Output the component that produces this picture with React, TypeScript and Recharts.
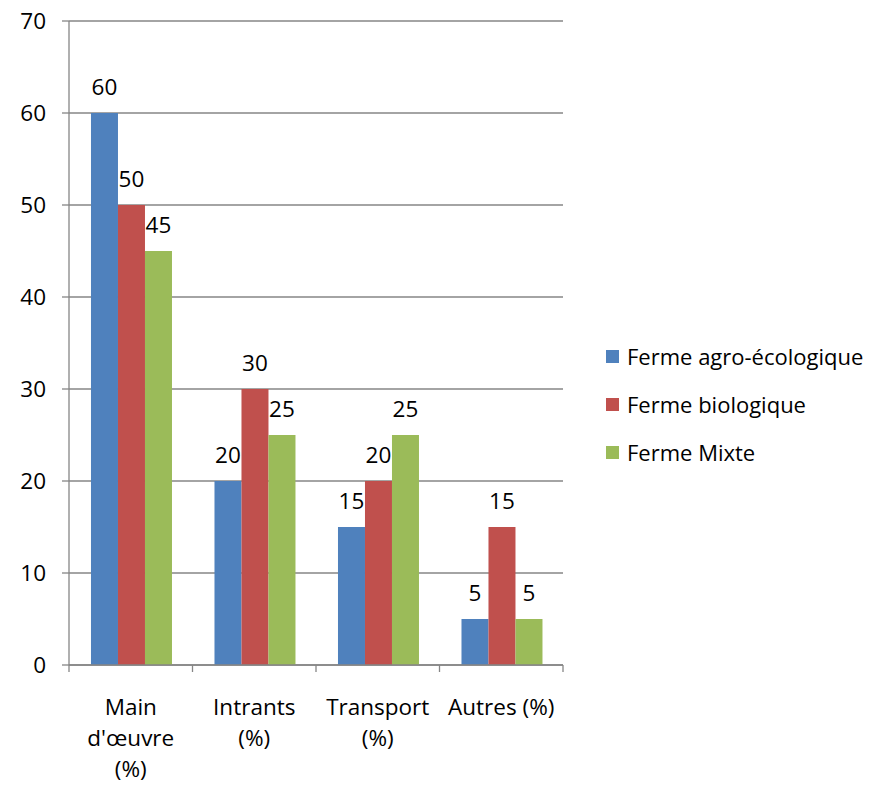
import React from "react";
import { Bar, BarChart, CartesianGrid, LabelList, XAxis, YAxis } from "recharts";

// tick labels, one entry per line
const categoryLines: string[][] = [
    ["Main", "d'œuvre", "(%)"],
    ["Intrants", "(%)"],
    ["Transport", "(%)"],
    ["Autres (%)"],
];
const categories = categoryLines.map((l) => l.join(" "));

const agroEcologique = [60, 20, 15, 5];
const biologique = [50, 30, 20, 15];
const mixte = [45, 25, 25, 5];

const yTicks = [0, 10, 20, 30, 40, 50, 60, 70];

const seriesNames = ["Ferme agro-écologique", "Ferme biologique", "Ferme Mixte"];
const colors = ["#4F81BD", "#C0504D", "#9BBB59"];

const data = categories.map((c, i) => ({
    cat: c,
    agro: agroEcologique[i],
    bio: biologique[i],
    mixte: mixte[i],
}));

const FONT = "'Open Sans', sans-serif";
const FS = 22.5;
const AXIS = "#868686";
const PLOT_LEFT = 69;
const PLOT_RIGHT = 563;
const BAND = (PLOT_RIGHT - PLOT_LEFT) / categories.length;

function CategoryTick(props: any) {
    const { x, y, payload, index } = props;
    const lines = categoryLines[categories.indexOf(payload.value)] || [payload.value];
    const top = y - 8; // axis line
    return (
        <g>
            <line x1={x - BAND / 2} x2={x - BAND / 2} y1={top} y2={top + 7} stroke={AXIS} strokeWidth={1.3} />
            {index === categories.length - 1 && (
                <line x1={x + BAND / 2} x2={x + BAND / 2} y1={top} y2={top + 7} stroke={AXIS} strokeWidth={1.3} />
            )}
            {lines.map((t, i) => (
                <text key={i} x={x} y={top + 50 + i * 31} textAnchor="middle" fill="#000" fontSize={FS} fontFamily={FONT}>
                    {t}
                </text>
            ))}
        </g>
    );
}

function LegendBox() {
    return (
        <div style={{ position: "absolute", left: 606, top: 332, fontFamily: FONT, fontSize: 22, color: "#000" }}>
            {seriesNames.map((n, i) => (
                <div key={n} style={{ display: "flex", alignItems: "center", height: 48, whiteSpace: "nowrap" }}>
                    <span style={{ width: 13, height: 13, background: colors[i], display: "inline-block", marginRight: 8 }} />
                    <span>{n}</span>
                </div>
            ))}
        </div>
    );
}

export default function App() {
    const labelStyle = { fill: "#000", fontSize: FS, fontFamily: FONT };
    return (
        <div style={{ position: "absolute", left: 0, top: 0, width: 881, height: 785 }}>
            <BarChart
                width={881}
                height={785}
                data={data}
                margin={{ top: 21, right: 881 - PLOT_RIGHT, left: 0, bottom: 0 }}
                barCategoryGap="17.8%"
                barGap={0}
            >
                <CartesianGrid vertical={false} stroke={AXIS} strokeWidth={1.3} />
                <XAxis
                    dataKey="cat"
                    height={120}
                    stroke={AXIS}
                    strokeWidth={1.3}
                    tickLine={false}
                    interval={0}
                    tick={<CategoryTick />}
                />
                <YAxis
                    width={PLOT_LEFT}
                    domain={[0, 70]}
                    ticks={yTicks}
                    stroke={AXIS}
                    strokeWidth={1.3}
                    tickSize={7}
                    tickMargin={16}
                    tick={{ fill: "#000", fontSize: FS, fontFamily: FONT }}
                />
                <Bar dataKey="agro" name={seriesNames[0]} fill={colors[0]} isAnimationActive={false}>
                    <LabelList dataKey="agro" position="top" offset={18} style={labelStyle} />
                </Bar>
                <Bar dataKey="bio" name={seriesNames[1]} fill={colors[1]} isAnimationActive={false}>
                    <LabelList dataKey="bio" position="top" offset={18} style={labelStyle} />
                </Bar>
                <Bar dataKey="mixte" name={seriesNames[2]} fill={colors[2]} isAnimationActive={false}>
                    <LabelList dataKey="mixte" position="top" offset={18} style={labelStyle} />
                </Bar>
            </BarChart>
            <LegendBox />
        </div>
    );
}
